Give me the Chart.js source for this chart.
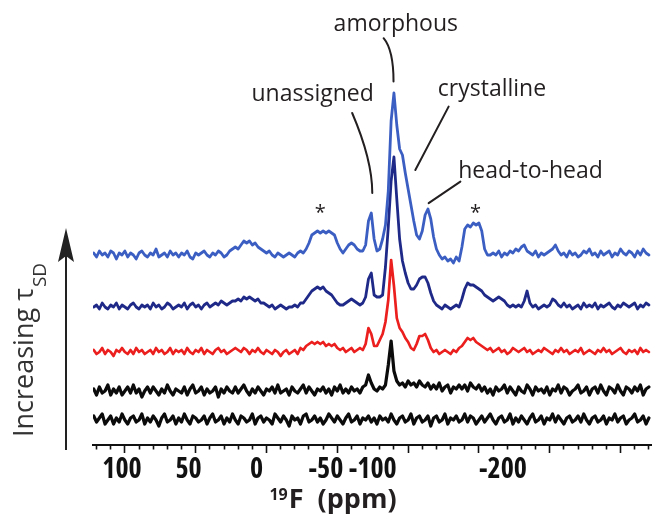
<!DOCTYPE html>
<html>
<head>
<meta charset="utf-8">
<script src="https://cdn.jsdelivr.net/npm/chart.js@4/dist/chart.umd.min.js"></script>
<style>
  html, body { margin: 0; padding: 0; background: #fff; }
  canvas { display: block; }
</style>
</head>
<body>
<canvas id="nmr" width="657" height="516"></canvas>
<script>
// 19F MAS NMR spectra, stacked from shortest (bottom) to longest (top) spin-diffusion time.

// chemical shift of every sample point (ppm)
const ppm = [
  122,120,118,116,114,112,110,108,106,104,
  102,100,98,96,94,92,90,88,86,84,
  82,80,78,76,74,72,70,68,66,64,
  62,60,58,56,54,52,50,48,46,44,
  42,40,38,36,34,32,30,28,26,24,
  22,20,18,16,14,12,10,8,6,4,
  2,0,-2,-4,-6,-8,-10,-12,-14,-16,
  -18,-20,-22,-24,-26,-28,-30,-32,-34,-36,
  -38,-40,-42,-44,-46,-48,-50,-52,-54,-56,
  -58,-60,-62,-64,-66,-68,-70,-72,-74,-76,
  -78,-80,-82,-84,-86,-88,-90,-92,-94,-96,
  -98,-100,-102,-104,-106,-108,-110,-112,-114,-116,
  -118,-120,-122,-124,-126,-128,-130,-132,-134,-136,
  -138,-140,-142,-144,-146,-148,-150,-152,-154,-156,
  -158,-160,-162,-164,-166,-168,-170,-172,-174,-176,
  -178,-180,-182,-184,-186,-188,-190,-192,-194,-196,
  -198,-200,-202,-204,-206,-208,-210,-212,-214,-216,
  -218,-220,-222,-224,-226,-228,-230,-232,-234,-236,
  -238,-240,-242,-244,-246,-248,-250,-252,-254,-256,
  -258,-260,-262,-264,-266,-268,-270
];

// intensities (a.u.) for each spin-diffusion time
const spec5 = [
  1,-1,2,0,1,-1,2,1,-2,1,
  0,2,-1,1,0,-2,1,2,0,-1,
  1,0,3,-1,0,1,-1,2,0,1,
  -1,1,0,2,-1,-2,1,0,1,2,
  0,-1,1,0,2,1,-1,0,2,3,
  4,3,5,7,6,7,5,6,4,3,
  2,1,2,0,-1,1,0,-1,0,1,
  0,-1,1,2,1,3,6,10,11,12,
  11,12,11,12,11,10,6,3,1,3,
  5,6,5,3,2,2,5,17,21,8,
  2,3,8,15,32,67,81,65,53,50,
  41,33,25,17,10,8,12,20,23,18,
  9,3,0,-2,-1,-3,-2,-4,-1,-3,
  4,13,15,14,16,15,16,12,3,0,
  0,1,0,2,-1,1,0,2,1,3,
  2,4,5,2,1,0,2,-1,1,0,
  1,2,3,5,2,0,1,-1,2,0,
  1,-1,0,2,1,3,0,1,-1,2,
  0,1,2,-1,1,0,3,1,0,2,
  1,-1,2,0,3,1,0
];
const spec4 = [
  0,1,-1,2,0,-1,1,0,2,-1,
  1,0,-1,1,2,0,-1,1,0,1,
  -1,2,0,1,-1,0,2,1,-1,0,
  1,0,2,-1,1,2,0,1,-1,1,
  2,0,1,2,1,3,2,1,2,3,
  3,4,3,5,4,5,4,3,4,2,
  2,1,0,1,-1,0,1,0,-1,0,
  0,1,0,2,2,4,6,8,9,10,
  9,10,8,7,6,4,2,1,1,2,
  3,4,3,2,1,2,5,14,17,6,
  5,5,6,20,40,63,75,54,34,23,
  17,12,9,9,11,14,15,15,12,7,
  3,1,0,-1,1,0,-1,0,1,0,
  4,9,12,11,11,10,9,8,6,5,
  4,3,4,5,4,3,1,0,1,0,
  1,0,3,8,2,0,1,-1,0,1,
  0,1,4,3,1,0,2,0,1,-1,
  0,1,-1,2,0,1,0,2,-1,1,
  0,1,2,0,-1,1,0,2,1,0,
  1,2,-1,1,0,2,1
];
const spec3 = [
  1,-1,0,2,-1,1,0,-2,1,0,
  2,0,-1,1,-1,2,0,1,-1,0,
  1,-1,2,0,1,-1,0,2,-1,1,
  0,1,-1,2,0,-1,1,0,2,-1,
  1,0,-1,1,2,0,1,-1,0,1,
  2,1,0,2,1,-1,1,0,2,0,
  -1,1,0,-1,1,0,-2,0,1,-1,
  0,1,-1,2,1,3,4,5,4,5,
  4,5,3,4,3,4,2,1,2,0,
  1,2,0,1,2,1,4,12,9,3,
  3,6,9,15,26,46,33,17,12,10,
  7,5,2,1,4,8,8,9,6,2,
  0,1,-1,0,1,0,-1,1,0,2,
  3,5,7,6,7,5,4,3,2,1,
  2,0,1,2,0,1,-1,0,2,1,
  0,1,2,0,1,-1,0,1,0,2,
  1,0,-1,1,0,2,0,1,-1,0,
  1,0,2,-1,0,1,0,-1,1,0,
  2,0,1,-1,0,1,2,0,-1,1,
  0,1,-1,2,0,1,0
];
const spec2 = [
  1,-2,2,-1,0,3,-2,1,-1,2,
  -2,0,2,-1,3,-1,1,-3,0,2,
  -1,2,0,-2,1,-1,3,0,-2,1,
  0,-1,2,-2,1,3,-1,0,2,-2,
  1,-1,0,2,-3,1,-1,2,0,-1,
  2,-1,1,3,0,-2,1,-1,2,0,
  -2,1,0,2,-1,3,-1,0,1,-2,
  2,0,-1,1,3,-1,2,0,-2,1,
  0,2,-1,1,-2,2,0,3,-1,1,
  -1,2,0,1,-1,2,3,8,4,1,
  0,2,1,3,13,25,10,5,3,4,
  2,5,3,4,2,5,3,2,4,1,
  3,1,4,0,2,3,-1,2,1,3,
  1,3,0,4,2,1,3,0,2,-1,
  1,-2,2,0,1,3,-1,2,0,-2,
  2,0,-1,3,1,-2,2,0,1,-1,
  2,-2,1,0,3,-1,2,1,-2,0,
  1,3,-1,0,2,-2,1,2,-1,3,
  0,-2,2,1,-1,3,0,-2,2,1,
  -1,2,0,3,-2,1,2
];
const spec1 = [
  2,-1,1,3,-2,0,2,-2,1,-1,
  3,0,-2,1,2,-1,0,3,-2,1,
  -1,2,0,-3,1,3,-1,0,2,-2,
  1,-1,3,0,-2,2,1,-1,0,2,
  -2,1,3,-1,0,2,-2,1,-1,3,
  0,-2,2,1,-1,0,3,-2,1,2,
  -1,1,0,-2,3,1,-1,2,0,-3,
  2,0,1,-2,2,3,-1,0,2,-1,
  1,-2,0,3,1,-1,2,0,-2,1,
  3,-1,0,2,-2,1,0,2,-1,1,
  -2,2,0,1,-1,3,0,-2,1,2,
  -1,0,3,-2,1,2,-1,0,2,-3,
  1,2,-1,0,3,-2,1,0,2,-1,
  0,3,-1,2,1,-2,0,2,-1,1,
  3,0,-2,1,2,-1,0,3,-2,1,
  -1,2,0,-2,1,3,-1,0,2,-2,
  1,0,3,-1,2,0,-2,1,2,-1,
  0,2,-1,3,0,-2,1,2,-1,0,
  2,-2,1,0,3,-1,1,2,-2,0,
  1,3,-1,0,2,-2,1
];

// axis labels and the shift each one sits under
const tickLabels = ['100', '50', '0', '-50', '-100', '-200'];
const tickLabelPpm = [102, 55, 7, -42, -75, -167];

// peak assignments: label anchor and leader path, in (ppm, intensity) coordinates
const assignments = [
  { text: 'amorphous',    at: [-91.3, 206.8],  path: [[-82.7, 203.4], [-89.7, 197.5], [-89.7, 181.7]] },
  { text: 'unassigned',   at: [-32.6, 171.8],  path: [[-60.5, 166], [-74.7, 142.5], [-74.7, 126]] },
  { text: 'crystalline',  at: [-159.2, 174.3], path: [[-128.6, 169.2], [-105.1, 137.5]] },
  { text: 'head-to-head', at: [-186.4, 133.5], path: [[-136.9, 131.7], [-114.5, 120.9]] }
];
// spinning sidebands, marked with *
const sidebandPpm = [-37.9, -147.5];
const sidebandLevel = 119;

// drawing set-up
const traces = [spec5, spec4, spec3, spec2, spec1];
const traceNames = ['τSD 5', 'τSD 4', 'τSD 3', 'τSD 2', 'τSD 1'];
const stackOffset = [95, 69, 46.5, 27, 12.5];
const traceColors = ['#3b5ec3', '#1f2a88', '#ec1f1f', '#0b0b0b', '#0b0b0b'];
const traceWidths = [2.8, 2.8, 2.7, 3.2, 3.2];

const INK = '#231f20';
const FONT = "'Open Sans', 'Noto Sans', sans-serif";

const datasets = traces.map((vals, k) => ({
  label: traceNames[k],
  data: vals.map((v, i) => ({ x: ppm[i], y: stackOffset[k] + v })),
  borderColor: traceColors[k],
  borderWidth: traceWidths[k],
  pointRadius: 0,
  tension: 0,
  fill: false,
  borderJoinStyle: 'round',
  borderCapStyle: 'round'
}));

const assignmentPlugin = {
  id: 'assignments',
  afterDatasetsDraw(chart) {
    const { ctx, scales: { x, y } } = chart;
    const px = p => [x.getPixelForValue(p[0]), y.getPixelForValue(p[1])];
    ctx.save();
    ctx.strokeStyle = INK;
    ctx.lineWidth = 2;
    ctx.lineCap = 'round';
    ctx.fillStyle = INK;
    ctx.font = `23px ${FONT}`;
    ctx.textAlign = 'center';
    ctx.textBaseline = 'alphabetic';
    assignments.forEach(a => {
      const [tx, ty] = px(a.at);
      ctx.fillText(a.text, tx, ty);
      const pts = a.path.map(px);
      ctx.beginPath();
      ctx.moveTo(pts[0][0], pts[0][1]);
      if (pts.length === 3) ctx.quadraticCurveTo(pts[1][0], pts[1][1], pts[2][0], pts[2][1]);
      else ctx.lineTo(pts[1][0], pts[1][1]);
      ctx.stroke();
    });
    ctx.font = `20px ${FONT}`;
    sidebandPpm.forEach(p => {
      const [sx, sy] = px([p, sidebandLevel]);
      ctx.fillText('*', sx, sy + 12);
    });
    ctx.restore();
  }
};

const frameTextPlugin = {
  id: 'frameText',
  afterDraw(chart) {
    const { ctx, chartArea, width, height } = chart;
    ctx.save();
    ctx.fillStyle = INK;

    // x-axis title with superscript mass number
    ctx.textBaseline = 'alphabetic';
    ctx.textAlign = 'left';
    ctx.font = `bold 16px ${FONT}`;
    const wSup = ctx.measureText('19').width;
    ctx.font = `bold 27px ${FONT}`;
    const wMain = ctx.measureText('F  (ppm)').width;
    const cx = width / 2 + 4.5;
    const base = height - 8;
    const startX = cx - (wSup + 1 + wMain) / 2;
    ctx.font = `bold 16px ${FONT}`;
    ctx.fillText('19', startX, base - 8);
    ctx.font = `bold 27px ${FONT}`;
    ctx.fillText('F  (ppm)', startX + wSup + 1, base);

    // rotated side label
    ctx.save();
    ctx.translate(chartArea.left - 60, chartArea.bottom - 8);
    ctx.rotate(-Math.PI / 2);
    ctx.fillStyle = '#333';
    ctx.font = `27px ${FONT}`;
    const main = 'Increasing τ';
    ctx.fillText(main, 0, 0);
    const wm = ctx.measureText(main).width;
    ctx.font = `19px ${FONT}`;
    ctx.fillText('SD', wm + 1, 13);
    ctx.restore();

    // arrow pointing upward
    const ax = chartArea.left - 27;
    const yTip = chartArea.bottom - 217;
    const yEnd = chartArea.bottom + 5;
    ctx.strokeStyle = '#222';
    ctx.fillStyle = '#222';
    ctx.lineWidth = 2;
    ctx.beginPath();
    ctx.moveTo(ax, yEnd);
    ctx.lineTo(ax, yTip + 20);
    ctx.stroke();
    ctx.beginPath();
    ctx.moveTo(ax, yTip);
    ctx.lineTo(ax - 8, yTip + 34);
    ctx.lineTo(ax, yTip + 28);
    ctx.lineTo(ax + 8, yTip + 34);
    ctx.closePath();
    ctx.fill();
    ctx.restore();
  }
};

Chart.defaults.font.family = FONT;

new Chart(document.getElementById('nmr'), {
  type: 'line',
  data: { datasets },
  options: {
    responsive: false,
    animation: false,
    devicePixelRatio: 1,
    layout: { padding: { left: 93, right: 6, top: 5, bottom: 30 } },
    plugins: { legend: { display: false }, tooltip: { enabled: false }, title: { display: false } },
    scales: {
      x: {
        type: 'linear',
        reverse: true,
        min: -271.5,
        max: 122.5,
        position: 'bottom',
        border: { display: true, color: '#111', width: 2 },
        grid: {
          display: true,
          drawOnChartArea: false,
          drawTicks: true,
          tickLength: 8,
          tickWidth: 1.6,
          tickColor: '#111',
          tickBorderDash: c => (c.tick && Math.abs(c.tick.value % 50) < 0.01) ? [] : [3.5, 40]
        },
        ticks: { display: false, stepSize: 10, includeBounds: false },
        afterFit: s => { s.height = 8; }
      },
      xl: {
        type: 'linear',
        reverse: true,
        min: -271.5,
        max: 122.5,
        position: 'bottom',
        border: { display: false },
        grid: { display: false, drawTicks: false },
        afterBuildTicks: s => { s.ticks = tickLabelPpm.map(v => ({ value: v })); },
        ticks: {
          autoSkip: false,
          maxRotation: 0,
          padding: 0,
          color: '#111',
          font: { family: FONT, weight: 'bold semi-condensed', size: 28 },
          callback: (v, i) => tickLabels[i]
        },
        afterFit: s => { s.height = 33; }
      },
      y: { display: false, min: 0, max: 220 }
    }
  },
  plugins: [assignmentPlugin, frameTextPlugin]
});
</script>
</body>
</html>
